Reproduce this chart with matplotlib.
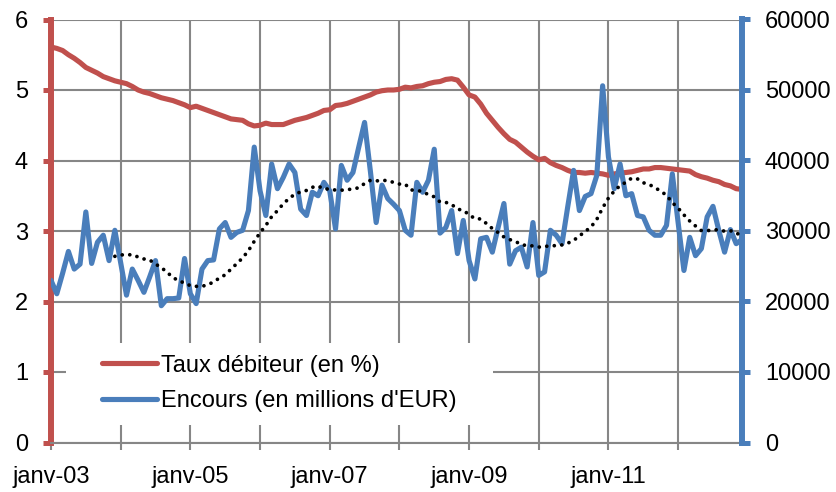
import numpy as np
import pandas as pd
import matplotlib
matplotlib.use("Agg")
import matplotlib.pyplot as plt
from matplotlib.patches import Rectangle

plt.rcParams['font.family'] = ['Liberation Sans', 'DejaVu Sans']

# ---------------- data (monthly, janv-03 .. déc-12) ----------------
taux = [5.61, 5.59, 5.56, 5.50, 5.45, 5.39, 5.32, 5.28, 5.24, 5.19, 5.16, 5.13,
        5.11, 5.09, 5.05, 5.00, 4.97, 4.95, 4.92, 4.89, 4.87, 4.85, 4.82, 4.79,
        4.75, 4.77, 4.74, 4.71, 4.68, 4.65, 4.62, 4.59, 4.58, 4.57, 4.52, 4.49,
        4.50, 4.53, 4.51, 4.51, 4.51, 4.54, 4.57, 4.59, 4.61, 4.64, 4.67, 4.71,
        4.72, 4.78, 4.79, 4.81, 4.84, 4.87, 4.90, 4.93, 4.97, 4.99, 5.00, 5.00,
        5.01, 5.04, 5.03, 5.05, 5.06, 5.09, 5.11, 5.12, 5.15, 5.16, 5.14, 5.04,
        4.93, 4.90, 4.80, 4.67, 4.57, 4.47, 4.38, 4.30, 4.26, 4.19, 4.12, 4.06,
        4.01, 4.03, 3.97, 3.93, 3.90, 3.86, 3.83, 3.83, 3.82, 3.83, 3.82, 3.81,
        3.79, 3.81, 3.82, 3.83, 3.84, 3.86, 3.88, 3.88, 3.90, 3.90, 3.89, 3.88,
        3.87, 3.86, 3.85, 3.80, 3.77, 3.75, 3.72, 3.70, 3.66, 3.64, 3.60, 3.59]

encours = [23000, 21100, 24000, 27100, 24600, 25300, 32700, 25400, 28400, 29400, 25800, 30100,
           25500, 20900, 24600, 23000, 21300, 23500, 25800, 19400, 20400, 20400, 20500, 26100,
           21100, 19700, 24600, 25800, 25900, 30300, 31200, 29100, 29800, 30100, 32900, 41900,
           35700, 32200, 39500, 36000, 37600, 39500, 38300, 33100, 32200, 35500, 35000, 36900,
           35700, 30300, 39300, 37200, 38300, 41900, 45400, 38500, 31200, 36500, 34600, 33800,
           32900, 30100, 29400, 36900, 35500, 37200, 41600, 29700, 30500, 32900, 26800, 31500,
           25800, 23200, 28900, 29100, 27000, 30500, 33900, 25300, 27200, 27700, 24900, 31200,
           23700, 24200, 30100, 29400, 28200, 33500, 38600, 32900, 34900, 35300, 37900, 50600,
           40500, 36000, 39500, 35000, 35300, 32200, 32000, 30100, 29400, 29400, 30800, 38100,
           31200, 24400, 29100, 26500, 27500, 32000, 33500, 30100, 27000, 30200, 28200, 28800]

x_labels = ['janv-03', 'janv-05', 'janv-07', 'janv-09', 'janv-11']
left_ticks = [0, 1, 2, 3, 4, 5, 6]
right_ticks = [0, 10000, 20000, 30000, 40000, 50000, 60000]
label_taux = 'Taux débiteur (en %)'
label_encours = "Encours (en millions d'EUR)"

# ---------------- styles ----------------
RED = '#C0504D'
BLUE = '#4A7EBB'
GRID = '#868686'
FS = 17

months = np.arange(len(taux))
trend = pd.Series(encours).rolling(12).mean()

fig = plt.figure(figsize=(8.37, 4.92), dpi=100)
ax1 = fig.add_axes([51 / 837, 49.5 / 492, 691 / 837, 423 / 492])
ax2 = ax1.twinx()

l1, = ax1.plot(months, taux, color=RED, lw=3.7, solid_joinstyle='round',
               solid_capstyle='round', zorder=3)
l2, = ax2.plot(months, encours, color=BLUE, lw=3.7, solid_joinstyle='round',
               solid_capstyle='round', zorder=3)
ax2.plot(months, trend, color='black', lw=2.7, linestyle=(0, (0.01, 2.0)),
         dash_capstyle='round', zorder=4)

ax1.set_xlim(0, len(taux) - 1)
ax1.set_ylim(0, 6)
ax2.set_ylim(0, 60000)

# grid
ax1.set_axisbelow(True)
ax1.grid(True, color=GRID, lw=1.5)

# x axis
xt = list(range(0, len(taux), 12))
ax1.set_xticks(xt)
xl = []
for k in range(len(xt)):
    xl.append(x_labels[k // 2] if k % 2 == 0 else '')
ax1.set_xticklabels(xl)
ax1.tick_params(axis='x', direction='out', length=5, width=1.5, color=GRID,
                labelsize=FS, pad=12)

# left axis
ax1.set_yticks(left_ticks)
ax1.set_yticklabels([str(v) for v in left_ticks])
ax1.tick_params(axis='y', direction='out', length=5.5, width=3.6, color=RED,
                labelsize=FS, pad=11)

# right axis
ax2.set_yticks(right_ticks)
ax2.set_yticklabels([str(v) for v in right_ticks])
ax2.tick_params(axis='y', direction='out', length=5.5, width=3.6, color=BLUE,
                labelsize=FS, pad=11)

for s in ['top', 'right']:
    ax1.spines[s].set_visible(False)
ax1.spines['left'].set_color(RED)
ax1.spines['left'].set_linewidth(4.3)
ax1.spines['bottom'].set_color(GRID)
ax1.spines['bottom'].set_linewidth(1.5)
for s in ['top', 'left', 'bottom']:
    ax2.spines[s].set_visible(False)
ax2.spines['right'].set_color(BLUE)
ax2.spines['right'].set_linewidth(4.3)

# legend with white box
ax2.add_patch(Rectangle((0.0217, 0.041), 0.618, 0.194, transform=ax2.transAxes,
                        facecolor='white', edgecolor='none', zorder=5))
leg = ax2.legend([l1, l2], [label_taux, label_encours], loc='center left',
                 bbox_to_anchor=(0.0734, 0.140), frameon=False, fontsize=FS,
                 borderpad=0, borderaxespad=0, handlelength=2.33,
                 handletextpad=0.2, labelspacing=0.56)
leg.set_zorder(6)
for h in leg.get_lines():
    h.set_solid_capstyle('round')
    h.set_linewidth(3.7)

fig.savefig('out.png', dpi=100)
